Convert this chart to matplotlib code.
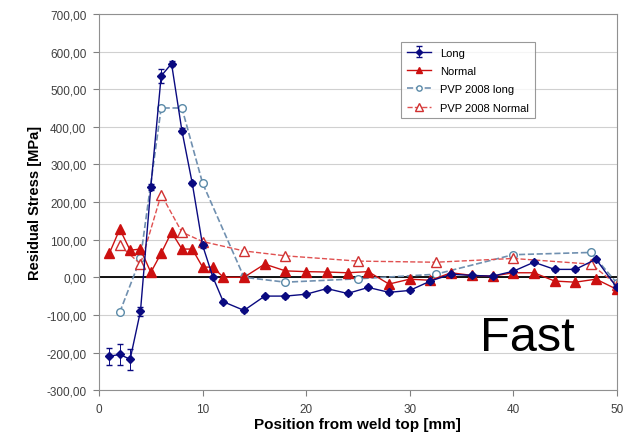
import numpy as np
import matplotlib
matplotlib.use('Agg')
import matplotlib.pyplot as plt
from matplotlib.ticker import FuncFormatter

plt.rcParams['font.family'] = ['Liberation Sans', 'DejaVu Sans']

# measured data
long_x = [1, 2, 3, 4, 5, 6, 7, 8, 9, 10, 11, 12, 14, 16, 18, 20, 22, 24, 26, 28,
          30, 32, 34, 36, 38, 40, 42, 44, 46, 48, 50]
long_y = [-210, -205, -218, -90, 240, 535, 568, 390, 250, 85, 0, -65, -88, -50, -50, -45,
          -30, -43, -27, -40, -35, -10, 8, 5, 3, 16, 40, 21, 21, 48, -27]
long_err = [22, 28, 28, 12, 8, 18, 6, 6, 6, 6, 4, 4, 4, 4, 4, 4,
            4, 4, 4, 4, 4, 4, 4, 4, 4, 4, 4, 4, 4, 4, 4]

normal_x = [1, 2, 3, 4, 5, 6, 7, 8, 9, 10, 11, 12, 14, 16, 18, 20, 22, 24, 26, 28,
            30, 32, 34, 36, 38, 40, 42, 44, 46, 48, 50]
normal_y = [64, 128, 72, 75, 13, 64, 120, 75, 75, 27, 27, 0, 0, 35, 17, 15, 14, 12, 15, -18,
            -5, -8, 12, 5, 3, 12, 12, -10, -13, -5, -32]

pvp_long_x = [2, 4, 6, 8, 10, 14, 18, 25, 32.5, 40, 47.5, 50]
pvp_long_y = [-93, 50, 450, 450, 250, 0, -13, -4, 8, 60, 66, -15]

pvp_normal_x = [2, 4, 6, 8, 10, 14, 18, 25, 32.5, 40, 47.5, 50]
pvp_normal_y = [85, 35, 220, 120, 95, 70, 57, 43, 40, 50, 35, -20]

fig = plt.figure(figsize=(6.23, 4.39), dpi=100)
ax = fig.add_axes([0.159, 0.109, 0.831, 0.857])

h1 = ax.errorbar(long_x, long_y, yerr=long_err, color='#0a0a80', marker='D', markersize=4.5,
                 lw=1.0, elinewidth=0.7, capsize=2, label='Long', zorder=4)
h2, = ax.plot(normal_x, normal_y, color='#cc1010', marker='^', markersize=6.5, lw=1.0,
              label='Normal', zorder=3)
h3, = ax.plot(pvp_long_x, pvp_long_y, color='#7090b0', ls='--', marker='o', markersize=5.5,
              mfc='white', mec='#5a8aa8', lw=1.2, label='PVP 2008 long', zorder=2)
h4, = ax.plot(pvp_normal_x, pvp_normal_y, color='#e05050', ls='--', marker='^', markersize=7.5,
              mfc='white', mec='#d03030', lw=1.0, label='PVP 2008 Normal', zorder=2)

ax.axhline(0, color='black', lw=1.3, zorder=1)

ax.set_xlim(0, 50)
ax.set_ylim(-300, 700)
ax.set_xticks(range(0, 51, 10))
ax.set_yticks(range(-300, 701, 100))
ax.yaxis.set_major_formatter(FuncFormatter(lambda v, p: ('%.2f' % v).replace('.', ',')))
ax.tick_params(labelsize=8.5, length=4, color='#808080', labelcolor='#404040', pad=5)
ax.grid(axis='y', color='#d0d0d0', lw=0.8)
ax.set_axisbelow(True)
for s in ax.spines.values():
    s.set_color('#909090')

ax.set_xlabel('Position from weld top [mm]', fontsize=11, fontweight='bold', labelpad=2)
ax.set_ylabel('Residual Stress [MPa]', fontsize=10.5, fontweight='bold', labelpad=3)

leg = ax.legend([h1, h2, h3, h4], ['Long', 'Normal', 'PVP 2008 long', 'PVP 2008 Normal'],
                loc='upper left', bbox_to_anchor=(0.573, 0.94), fontsize=8,
                frameon=True, fancybox=False, edgecolor='#808080', handlelength=2.2,
                borderpad=0.5, labelspacing=0.75, markerscale=0.7)
leg.get_frame().set_linewidth(0.8)

fig.text(0.846, 0.23, 'Fast', fontsize=35, ha='center', va='center')

fig.savefig('out.png', dpi=100)
